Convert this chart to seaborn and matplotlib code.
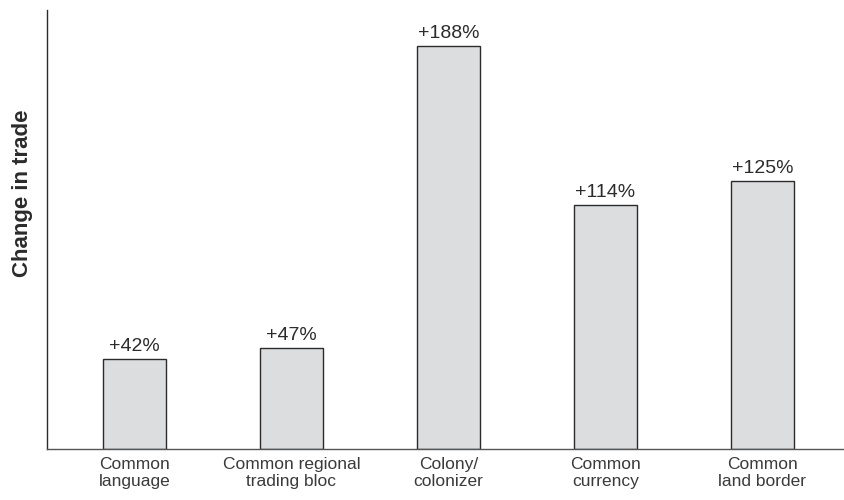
import matplotlib
matplotlib.use("Agg")
import matplotlib.pyplot as plt
import seaborn as sns
import pandas as pd

categories = ["Common\nlanguage", "Common regional\ntrading bloc", "Colony/\ncolonizer",
              "Common\ncurrency", "Common\nland border"]
values = [42, 47, 188, 114, 125]
value_labels = ["+42%", "+47%", "+188%", "+114%", "+125%"]

sns.set_theme(style="white")
plt.rcParams["font.family"] = ["Liberation Sans", "DejaVu Sans"]

df = pd.DataFrame({"cat": categories, "val": values})

fig = plt.figure(figsize=(8.44, 5.0), dpi=100)
ax = fig.add_axes([47 / 844, 51 / 500, 797 / 844, 439 / 500])

sns.barplot(data=df, x="cat", y="val", color="#dcdddf", edgecolor="#2b2b2b",
            linewidth=1.0, width=0.4, saturation=1, ax=ax)

ax.bar_label(ax.containers[0], labels=value_labels, padding=3, fontsize=14, color="#2b2b2b")

ax.set_xlim(-0.557, 4.52)
ax.set_ylim(0, 205)
ax.set_yticks([])
ax.set_xlabel("")
ax.set_ylabel("Change in trade", fontsize=16, fontweight="bold", color="#2b2b2b")
ax.yaxis.set_label_coords(-0.017, 0.583)
ax.tick_params(axis="x", length=0, pad=6, labelsize=12.5, labelcolor="#3a3a3a")
for lab in ax.get_xticklabels():
    lab.set_linespacing(1.1)

sns.despine(ax=ax, top=True, right=True)
ax.spines["left"].set_color("#2b2b2b")
ax.spines["bottom"].set_color("#555555")
ax.spines["left"].set_linewidth(1.0)
ax.spines["bottom"].set_linewidth(1.0)

fig.savefig("out.png", dpi=100)
